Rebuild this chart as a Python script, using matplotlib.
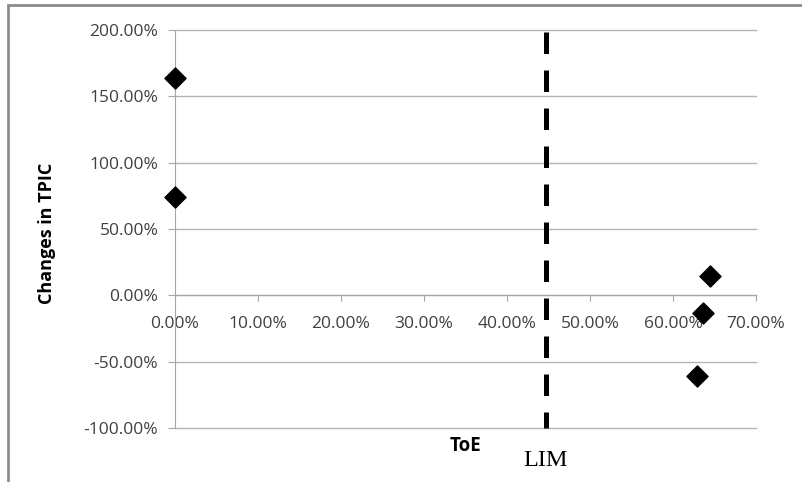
import numpy as np
import matplotlib.pyplot as plt
from matplotlib.ticker import FuncFormatter
from matplotlib.patches import Rectangle

# data (fractions)
toe = [0.0, 0.0, 0.644, 0.636, 0.629]
tpic = [1.64, 0.74, 0.145, -0.135, -0.61]
lim_x = 0.447

yticks = [-1.0, -0.5, 0.0, 0.5, 1.0, 1.5, 2.0]
xticks = [0.0, 0.1, 0.2, 0.3, 0.4, 0.5, 0.6, 0.7]

plt.rcParams['font.family'] = ['Open Sans', 'DejaVu Sans']

W, H = 802, 482
fig = plt.figure(figsize=(W / 100, H / 100), dpi=100)
# plot area in pixels: x 175..756, y 30..428
ax = fig.add_axes([175 / W, 1 - 428 / H, (756 - 175) / W, (428 - 30) / H])

# outer chart frame
fig.patches.append(Rectangle((8 / W, -0.1), 1.2, 1 - 5 / H + 0.1, transform=fig.transFigure,
                             fill=False, edgecolor='#8c8c8c', linewidth=2))

pct = FuncFormatter(lambda v, p: '{:.2f}%'.format(v * 100))

ax.set_xlim(0, 0.7)
ax.set_ylim(-1.0, 2.0)
ax.set_yticks(yticks)
ax.set_xticks(xticks)
ax.yaxis.set_major_formatter(pct)
ax.xaxis.set_major_formatter(pct)

for v in yticks:
    ax.axhline(v, color='#b3b3b3', linewidth=1, zorder=0, clip_on=False)

for s in ['top', 'right']:
    ax.spines[s].set_visible(False)
ax.spines['left'].set_color('#a6a6a6')
ax.spines['left'].set_position(('data', 0))

# x-axis crosses at y = 0
ax.spines['bottom'].set_position(('data', 0))
ax.spines['bottom'].set_color('#a6a6a6')

ax.tick_params(axis='y', length=5, color='#a6a6a6', labelsize=12.5, labelcolor='#404040', pad=7)
ax.tick_params(axis='x', length=4, color='#a6a6a6', direction='out', labelsize=12.5,
               labelcolor='#404040', pad=11)

ax.scatter(toe, tpic, marker='D', s=115, color='black', zorder=3, clip_on=False)

ax.plot([lim_x, lim_x], [1.985, -1.0], color='black', linewidth=3.6,
        linestyle=(0, (4.3, 3.3)), zorder=2, clip_on=False)

ax.set_ylabel('Changes in TPIC', fontsize=13, fontweight='bold', color='black')
ax.yaxis.set_label_coords(-0.205, 0.49)
fig.text(465 / W, 1 - 446 / H, 'ToE', fontsize=13.5, fontweight='bold', ha='center', va='center')
fig.text(546 / W, 1 - 460 / H, 'LIM', fontsize=17.5, family='Liberation Serif', ha='center', va='center')

fig.savefig('out.png', dpi=100)
